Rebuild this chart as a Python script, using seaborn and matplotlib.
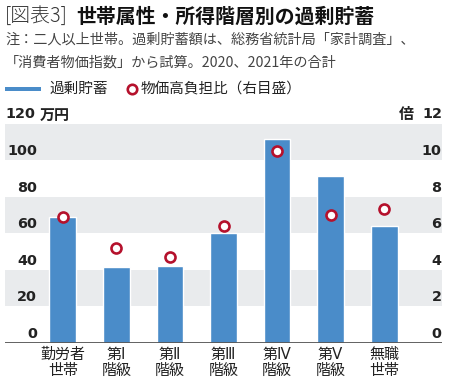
import matplotlib
matplotlib.use("Agg")
import matplotlib.pyplot as plt
from matplotlib.lines import Line2D
from matplotlib.patches import Rectangle
import seaborn as sns
import pandas as pd

sns.set_style("white")
plt.rcParams['font.family'] = ['Noto Sans CJK JP', 'DejaVu Sans']

categories = ["勤労者\n世帯", "第Ⅰ\n階級", "第Ⅱ\n階級", "第Ⅲ\n階級", "第Ⅳ\n階級", "第Ⅴ\n階級", "無職\n世帯"]
excess_savings = [69.0, 41.3, 42.2, 60.3, 111.6, 91.3, 63.9]   # 万円
burden_ratio = [6.9, 5.2, 4.7, 6.4, 10.5, 7.0, 7.3]            # 倍 (right axis)
left_ticks = [0, 20, 40, 60, 80, 100]
right_ticks = [0, 2, 4, 6, 8, 10]

BLUE = "#4a8cc9"
RED = "#b5112c"
BAND = "#e9ebed"
TXT = "#222222"
NUMFONT = ['DejaVu Sans', 'Noto Sans CJK JP']
NUMSIZE = 10.4

df = pd.DataFrame({"cat": categories, "save": excess_savings, "ratio": burden_ratio})

fig = plt.figure(figsize=(4.5, 3.84), dpi=100)
W, H = 450, 384
ax = fig.add_axes([5 / W, (H - 342.7) / H, 437 / W, 219 / H])

for lo, hi in [(20, 40), (60, 80), (100, 120)]:
    ax.axhspan(lo, hi, color=BAND, zorder=0, lw=0)

sns.barplot(data=df, x="cat", y="save", color=BLUE, width=0.5, saturation=1,
            ax=ax, zorder=2)
ax.set_ylim(0, 120)
ax.set_xlim(-1.08, 7.08)
ax.axhline(0, color="#555555", lw=1.3, zorder=3)
for s in ax.spines.values():
    s.set_visible(False)
ax.set_xlabel("")
ax.set_ylabel("")
ax.set_yticks([])
ax.tick_params(axis="x", length=0, pad=3, labelsize=10.8, colors=TXT)
for lab in ax.get_xticklabels():
    lab.set_fontfamily(['DejaVu Sans', 'Noto Sans CJK JP'])
    lab.set_linespacing(1.1)

ax2 = ax.twinx()
sns.scatterplot(data=df, x="cat", y="ratio", ax=ax2, s=52, facecolor="white",
                edgecolor=RED, linewidth=1.9, zorder=5)
ax2.set_ylim(0, 12)
ax2.set_yticks([])
ax2.set_ylabel("")
for s in ax2.spines.values():
    s.set_visible(False)
ax.set_xlim(-1.08, 7.08)

# inside tick labels
off = 5.0
for v in left_ticks:
    ax.text(32 / 437, v + off, str(v), transform=ax.get_yaxis_transform(),
            ha="right", va="center", fontsize=NUMSIZE, fontweight="bold", color=TXT,
            family=NUMFONT)
for v in right_ticks:
    ax.text(0.999, v * 10 + off, str(v), transform=ax.get_yaxis_transform(),
            ha="right", va="center", fontsize=NUMSIZE, fontweight="bold", color=TXT,
            family=NUMFONT)

# top axis unit labels
yl = 1 - 114.5 / H
fig.text(35 / W, yl, "120", ha="right", va="center", fontsize=NUMSIZE,
         fontweight="bold", color=TXT, family=NUMFONT)
fig.text(40 / W, yl, "万円", ha="left", va="center", fontsize=10.8,
         fontweight="bold", color=TXT)
fig.text(442 / W, yl, "12", ha="right", va="center", fontsize=NUMSIZE,
         fontweight="bold", color=TXT, family=NUMFONT)
fig.text(414 / W, yl, "倍", ha="right", va="center", fontsize=10.8,
         fontweight="bold", color=TXT)

# title
fig.text(5 / W, 1 - 16 / H, "[図表3]", ha="left", va="center", fontsize=14.3,
         fontweight="light", color="#333333")
fig.text(76 / W, 1 - 16 / H, "世帯属性・所得階層別の過剰貯蓄", ha="left", va="center",
         fontsize=14.3, fontweight="bold", color="#111111")
fig.text(5 / W, 1 - 39.5 / H, "注：二人以上世帯。過剰貯蓄額は、総務省統計局「家計調査」、",
         ha="left", va="center", fontsize=10.2, color="#444444")
fig.text(5 / W, 1 - 62 / H, "「消費者物価指数」から試算。2020、2021年の合計",
         ha="left", va="center", fontsize=10.2, color="#444444")

# legend
fig.add_artist(Rectangle((5 / W, 1 - 91 / H), 36 / W, 4 / H, transform=fig.transFigure,
                         color=BLUE, lw=0))
fig.text(49 / W, 1 - 89 / H, "過剰貯蓄", ha="left", va="center", fontsize=10.5, color=TXT)
fig.add_artist(Line2D([131.5 / W], [1 - 89 / H], transform=fig.transFigure, marker="o",
                      markersize=6.8, markerfacecolor="white", markeredgecolor=RED,
                      markeredgewidth=1.9, linestyle="none"))
fig.text(141 / W, 1 - 89 / H, "物価高負担比（右目盛）", ha="left", va="center",
         fontsize=10.5, color=TXT)

fig.savefig("out.png", dpi=100)
